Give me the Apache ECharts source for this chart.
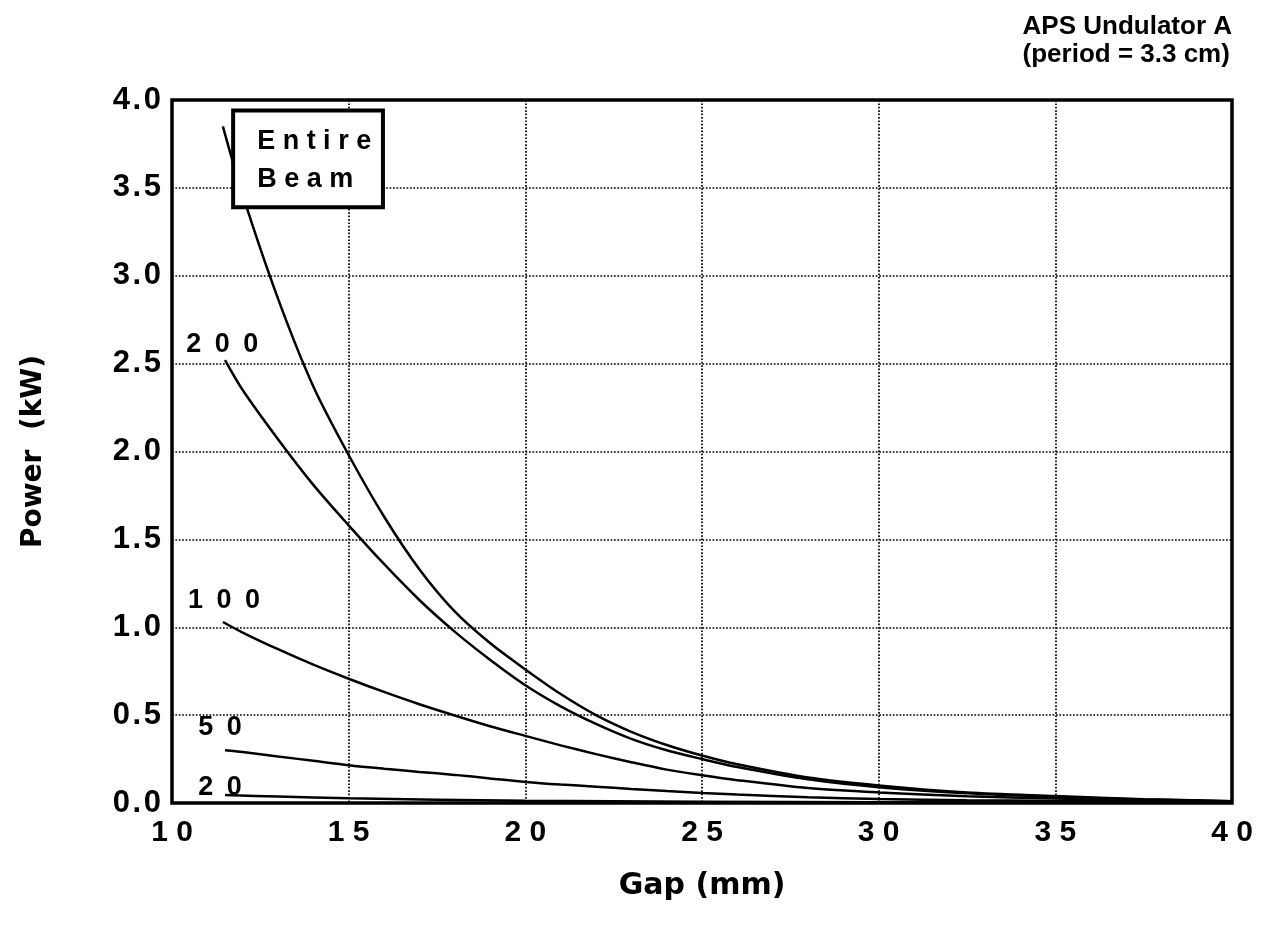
<!DOCTYPE html>
<html>
<head>
<meta charset="utf-8">
<script src="https://cdn.jsdelivr.net/npm/echarts@6/dist/echarts.min.js"></script>
<style>
  html, body { margin: 0; padding: 0; background: #fff; }
  #chartBox { width: 1267px; height: 935px; }
</style>
</head>
<body>
<div id="chartBox"></div>
<script>
// values (gap in mm, power in kW)
const gapEntire = [11.44, 12, 13, 14, 15, 16, 17, 18, 19, 20, 21, 22, 23, 24, 25, 26, 28, 30, 32.5, 35, 37.5, 40];
const powEntire = [3.85, 3.46, 2.87, 2.37, 1.98, 1.63, 1.33, 1.09, 0.91, 0.76, 0.62, 0.50, 0.405, 0.33, 0.27, 0.22, 0.145, 0.10, 0.06, 0.04, 0.022, 0.01];

const gap200 = [11.5, 12, 13, 14, 15, 16, 17, 18, 19, 20, 21, 22, 23, 24, 25, 26, 28, 30, 32.5, 35, 37.5, 40];
const pow200 = [2.52, 2.35, 2.07, 1.81, 1.58, 1.36, 1.155, 0.975, 0.815, 0.67, 0.55, 0.45, 0.365, 0.30, 0.25, 0.205, 0.135, 0.09, 0.055, 0.035, 0.02, 0.01];

const gap100 = [11.44, 12, 13, 14, 15, 16, 17, 18, 19, 20, 21, 22, 23, 24, 25, 26, 28, 30, 32.5, 35, 37.5, 40];
const pow100 = [1.03, 0.97, 0.875, 0.787, 0.707, 0.632, 0.562, 0.498, 0.437, 0.382, 0.328, 0.278, 0.232, 0.19, 0.158, 0.13, 0.085, 0.06, 0.038, 0.025, 0.015, 0.008];

const gap50 = [11.5, 12, 13, 14, 15, 16, 17, 18, 19, 20, 21, 22, 23, 24, 25, 26, 28, 30, 32.5, 35, 37.5, 40];
const pow50 = [0.30, 0.29, 0.265, 0.24, 0.215, 0.195, 0.177, 0.16, 0.14, 0.12, 0.105, 0.093, 0.08, 0.068, 0.057, 0.048, 0.033, 0.023, 0.016, 0.012, 0.008, 0.005];

const gap20 = [11.5, 13, 15, 17.5, 20, 25, 30, 35, 40];
const pow20 = [0.045, 0.037, 0.027, 0.019, 0.013, 0.007, 0.004, 0.002, 0.001];

// curve labels (centre of text, in data space)
const labelText = ['200', '100', '50', '20'];
const labelGap = [11.42, 11.47, 11.36, 11.36];
const labelPow = [2.61, 1.15, 0.43, 0.09];

// "Entire Beam" box corners, in data space
const boxGap = [11.73, 15.97];
const boxPow = [3.94, 3.39];

const FONT = 'Liberation Sans';
const NAME_FONT = 'DejaVu Sans';

function spread(s, sep) {
	return String(s).split('').join(sep);
}

function pairs(xs, ys) {
	return xs.map((x, i) => [x, ys[i]]);
}

function curve(name, xs, ys) {
	return {
		name: name,
		type: 'line',
		data: pairs(xs, ys),
		showSymbol: false,
		smooth: 0.3,
		lineStyle: { color: '#000', width: 2.5 },
		silent: true,
		z: 3
	};
}

let myChart = echarts.init(document.getElementById('chartBox'));
let option = {
	backgroundColor: '#fff',
	animation: false,
	grid: {
		left: 172,
		right: 35,
		top: 100,
		bottom: 132,
		outerBoundsMode: 'none',
		show: true,
		borderColor: '#000',
		borderWidth: 3.5
	},
	xAxis: {
		type: 'value',
		min: 10,
		max: 40,
		interval: 5,
		name: 'Gap (mm)',
		nameLocation: 'middle',
		nameGap: 68,
		nameTextStyle: { color: '#000', fontFamily: NAME_FONT, fontWeight: 'bold', fontSize: 30 },
		axisLine: { show: false },
		axisTick: { show: false },
		axisLabel: {
			color: '#000',
			fontFamily: FONT,
			fontWeight: 'bold',
			fontSize: 30,
			margin: 15,
			formatter: v => spread(v, ' ')
		},
		splitLine: { show: true, lineStyle: { color: '#000', type: 'dotted', width: 1.7 } }
	},
	yAxis: {
		type: 'value',
		min: 0,
		max: 4,
		interval: 0.5,
		name: 'Power  (kW)',
		nameLocation: 'middle',
		nameGap: 124,
		nameRotate: 90,
		nameTextStyle: { color: '#000', fontFamily: NAME_FONT, fontWeight: 'bold', fontSize: 28 },
		axisLine: { show: false },
		axisTick: { show: false },
		axisLabel: {
			color: '#000',
			fontFamily: FONT,
			fontWeight: 'bold',
			fontSize: 31,
			margin: 11,
			formatter: v => spread(v.toFixed(1), '\u200a')
		},
		splitLine: { show: true, lineStyle: { color: '#000', type: 'dotted', width: 1.7 } }
	},
	series: [
		curve('Entire Beam', gapEntire, powEntire),
		curve('200', gap200, pow200),
		curve('100', gap100, pow100),
		curve('50', gap50, pow50),
		curve('20', gap20, pow20)
	]
};
myChart.setOption(option, true);

// annotations: positions come from the chart's own scales
const toPx = p => myChart.convertToPixel({ gridIndex: 0 }, p);
const graphics = [];

graphics.push({
	type: 'text',
	right: 35,
	top: 13,
	style: {
		text: 'APS Undulator A\n(period = 3.3 cm)',
		fill: '#000',
		font: 'bold 26px ' + FONT,
		align: 'center',
		lineHeight: 28
	}
});

labelText.forEach((t, i) => {
	const p = toPx([labelGap[i], labelPow[i]]);
	graphics.push({
		type: 'text',
		x: p[0],
		y: p[1],
		z: 10,
		style: {
			text: spread(t, '\u2002'),
			fill: '#000',
			font: 'bold 27px ' + FONT,
			align: 'center',
			verticalAlign: 'middle'
		}
	});
});

const b0 = toPx([boxGap[0], boxPow[0]]);
const b1 = toPx([boxGap[1], boxPow[1]]);
graphics.push({
	type: 'rect',
	z: 10,
	shape: { x: b0[0], y: b0[1], width: b1[0] - b0[0], height: b1[1] - b0[1] },
	style: { fill: '#fff', stroke: '#000', lineWidth: 4 }
});
graphics.push({
	type: 'text',
	z: 11,
	x: b0[0] + 24,
	y: b0[1] + 50,
	style: {
		text: spread('Entire', ' ') + '\n' + spread('Beam', ' '),
		fill: '#000',
		font: 'bold 27px ' + FONT,
		lineHeight: 38,
		verticalAlign: 'middle'
	}
});

myChart.setOption({ graphic: graphics });
</script>
</body>
</html>
